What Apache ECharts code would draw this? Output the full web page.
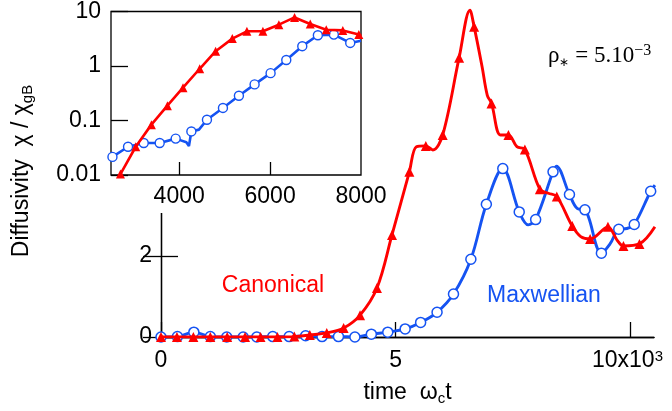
<!DOCTYPE html>
<html>
<head>
<meta charset="utf-8">
<script src="https://cdn.jsdelivr.net/npm/echarts@6/dist/echarts.min.js"></script>
<style>html,body{margin:0;padding:0;background:#fff}#c{width:672px;height:411px}</style>
</head>
<body>
<div id="c"></div>
<script>
// ---- Main chart data (time in units of 10^3 / omega_c) ----
const canonMarkT = [0,0.34,0.69,1.05,1.41,1.79,2.12,2.48,2.84,3.17,3.53,3.89,4.24,4.6,4.92,5.29,5.64,6.0,6.35,6.67,7.04,7.4,7.75,8.07,8.43,8.76,9.14,9.52,9.85,10.19];
const canonMarkV = [0,0,0,0,0,0,0,0,0.01,0.05,0.1,0.22,0.54,1.21,2.52,4.08,4.72,4.99,6.9,7.66,5.77,4.99,4.63,3.65,3.47,2.74,2.42,2.72,2.25,2.3];
const canonCurveT = [5.44,5.79,6.58,6.84,6.95,7.23,7.58,8.25,8.94,9.71,10.52];
const canonCurveV = [4.7,4.62,8.07,6.67,5.97,4.99,4.7,3.55,2.48,2.4,2.72];

const maxwMarkT = [0,0.35,0.7,1.05,1.4,1.75,2.04,2.38,2.73,3.08,3.43,3.78,4.13,4.48,4.83,5.2,5.53,5.88,6.23,6.6,6.93,7.28,7.63,7.98,8.35,8.7,9.03,9.38,9.75,10.08,10.43];
const maxwMarkV = [0,0.01,0.12,0.01,0,0,0,0.01,0.01,0.03,0.01,0.01,0,0.07,0.12,0.2,0.36,0.61,1.06,1.92,3.28,4.16,3.09,2.9,4.08,3.52,3.14,2.07,2.66,2.78,3.6];
const maxwCurveT = [7.82,8.42,8.87,9.57,9.92,10.52];
const maxwCurveV = [2.77,4.22,3.17,2.31,2.68,3.75];

// ---- Inset data (log scale, time in omega_c t) ----
const insetCanonMarkT = [2708,3044,3389,3741,4084,4451,4802,5169,5490,5842,6193,6538,6883,7235,7600,7952];
const insetCanonMarkV = [0.0104,0.033,0.084,0.187,0.40,0.89,1.87,3.18,4.33,4.33,5.73,7.78,5.88,4.64,4.5,3.77];
const insetCanonCurveT = [2620,8000];
const insetCanonCurveV = [0.0075,3.6];

const insetMaxwMarkT = [2532,2875,3220,3571,3923,4268,4611,4963,5314,5659,6011,6356,6708,7051,7403,7763];
const insetMaxwMarkV = [0.0215,0.033,0.0387,0.0387,0.0465,0.063,0.103,0.17,0.285,0.46,0.74,1.29,2.31,3.66,3.77,2.65];
const insetMaxwCurveT = [4158,4215,4435,8000];
const insetMaxwCurveV = [0.04,0.034,0.068,2.9];

// ---- Tick labels ----
const mainXTicks = {0:'0', 5:'5', 10:'{a|10x10}{sup|3}'};
const mainYTicks = {0:'0', 2:'2'};
const insetXTicks = [4000, 6000, 8000];
const insetXTickMarks = [4000, 6000];
const insetYLabels = ['0.01','0.1','1','10'];

const RED = '#ff0000';
const BLUE = '#1553f2';
const SANS = 'Liberation Sans, Helvetica, Arial, sans-serif';
const SERIF = 'Liberation Serif, Times New Roman, serif';
const FS = 23;

function merge(mT, mV, cT, cV) {
  const pts = [];
  mT.forEach((t, i) => pts.push({value: [t, mV[i]]}));
  cT.forEach((t, i) => pts.push({value: [t, cV[i]], symbol: 'none'}));
  pts.sort((a, b) => a.value[0] - b.value[0]);
  return pts;
}

const axisLineStyle = {color: '#000', width: 1.3};
const labelBase = {color: '#000', fontSize: FS, fontFamily: SANS};

const chart = echarts.init(document.getElementById('c'), null, {renderer: 'canvas'});
chart.setOption({
  animation: false,
  backgroundColor: '#fff',
  grid: [
    {left: 161, top: 5, width: 500, height: 332, z: 0},
    {left: 111, top: 10, width: 250, height: 165, show: true, backgroundColor: '#fff', borderColor: '#000', borderWidth: 1.3, z: 4}
  ],
  xAxis: [
    {gridIndex: 0, type: 'value', min: 0, max: 10.5, interval: 5, position: 'bottom', z: 0,
     axisLine: {lineStyle: axisLineStyle},
     axisTick: {inside: true, length: 15, lineStyle: axisLineStyle},
     splitLine: {show: false},
     axisLabel: Object.assign({}, labelBase, {margin: 12, showMaxLabel: false,
        formatter: v => mainXTicks[v] !== undefined ? mainXTicks[v] : '',
        rich: {a: {fontSize: FS, fontFamily: SANS, color: '#000'},
               sup: {fontSize: 15, fontFamily: SANS, color: '#000', verticalAlign: 'top', lineHeight: 15, padding: [0, 6, 0, 0]}}}),
     name: '{a|time  ω}{s|c}{a|t}', nameLocation: 'middle', nameGap: 43,
     nameTextStyle: {color: '#000', fontSize: FS, fontFamily: SANS,
        rich: {a: {fontSize: FS, fontFamily: SANS, color: '#000', lineHeight: 26},
               s: {fontSize: 15, fontFamily: SANS, color: '#000', verticalAlign: 'bottom', lineHeight: 15}}}},
    {gridIndex: 0, type: 'value', min: 0, max: 10.5, position: 'top', z: 0,
     axisLine: {lineStyle: axisLineStyle}, axisTick: {show: false}, axisLabel: {show: false}, splitLine: {show: false}},
    {gridIndex: 1, type: 'value', min: 2500, max: 8000, position: 'bottom', z: 5,
     axisLine: {show: false},
     axisTick: {inside: true, length: 13, customValues: insetXTickMarks, lineStyle: axisLineStyle},
     splitLine: {show: false},
     axisLabel: Object.assign({}, labelBase, {margin: 10, customValues: insetXTicks, formatter: v => String(v)})}
  ],
  yAxis: [
    {gridIndex: 0, type: 'value', min: 0, max: 8.2, interval: 2, position: 'left', z: 0,
     axisLine: {lineStyle: axisLineStyle},
     axisTick: {inside: true, length: 17, lineStyle: axisLineStyle},
     splitLine: {show: false},
     axisLabel: Object.assign({}, labelBase, {margin: 9, showMaxLabel: false,
        formatter: v => mainYTicks[v] !== undefined ? mainYTicks[v] : ''}),
     name: '{a|Diffusivity  χ / χ}{s|gB}', nameLocation: 'middle', nameGap: 126, nameRotate: 90,
     nameTextStyle: {color: '#000', fontSize: FS, fontFamily: SANS,
        rich: {a: {fontSize: FS, fontFamily: SANS, color: '#000', lineHeight: 26},
               s: {fontSize: 15, fontFamily: SANS, color: '#000', verticalAlign: 'bottom', lineHeight: 15}}}},
    {gridIndex: 0, type: 'value', min: 0, max: 8.2, interval: 2, position: 'right', z: 0,
     axisLine: {lineStyle: axisLineStyle},
     axisTick: {inside: true, length: 18, lineStyle: axisLineStyle},
     axisLabel: {show: false}, splitLine: {show: false}},
    {gridIndex: 1, type: 'log', logBase: 10, min: 0.01, max: 10, position: 'left', z: 5,
     axisLine: {show: false},
     axisTick: {inside: true, length: 17, lineStyle: axisLineStyle},
     splitLine: {show: false}, minorTick: {show: false},
     axisLabel: Object.assign({}, labelBase, {margin: 10,
        formatter: v => insetYLabels[Math.round(Math.log10(v)) + 2] || ''})}
  ],
  graphic: [
    {type: 'rect', z: 1, shape: {x: 45, y: 0, width: 344, height: 213}, style: {fill: '#fff'}},
    {type: 'text', z: 10, x: 273, y: 286, style: {text: 'Canonical', fill: RED, font: '23px ' + SANS, align: 'center', verticalAlign: 'middle'}},
    {type: 'text', z: 10, x: 544, y: 296, style: {text: 'Maxwellian', fill: BLUE, font: '23px ' + SANS, align: 'center', verticalAlign: 'middle'}},
    {type: 'text', z: 10, x: 548, y: 56, style: {
      text: '{a|ρ}{sub|∗}{a| = 5.10}{sup|−3}', align: 'left', verticalAlign: 'middle',
      rich: {a: {fontSize: 23, fontFamily: SERIF, fill: '#000', lineHeight: 26},
             sub: {fontSize: 12, fontFamily: SERIF, fill: '#000', verticalAlign: 'bottom', lineHeight: 10},
             sup: {fontSize: 16, fontFamily: SERIF, fill: '#000', verticalAlign: 'top', lineHeight: 14}}}}
  ],
  series: [
    {type: 'line', name: 'Maxwellian', xAxisIndex: 0, yAxisIndex: 0, z: 2, smooth: 0.35,
     data: merge(maxwMarkT, maxwMarkV, maxwCurveT, maxwCurveV),
     symbol: 'circle', symbolSize: 10, showAllSymbol: true,
     lineStyle: {color: BLUE, width: 2.9},
     itemStyle: {color: '#fff', borderColor: BLUE, borderWidth: 1.5}},
    {type: 'line', name: 'Canonical', xAxisIndex: 0, yAxisIndex: 0, z: 3, smooth: 0.35,
     data: merge(canonMarkT, canonMarkV, canonCurveT, canonCurveV),
     symbol: 'triangle', symbolSize: 10, showAllSymbol: true,
     lineStyle: {color: RED, width: 2.9},
     itemStyle: {color: RED}},
    {type: 'line', name: 'MaxwellianInset', xAxisIndex: 2, yAxisIndex: 2, z: 6, smooth: false,
     data: merge(insetMaxwMarkT, insetMaxwMarkV, insetMaxwCurveT, insetMaxwCurveV),
     symbol: 'circle', symbolSize: 9, showAllSymbol: true, clip: true,
     lineStyle: {color: BLUE, width: 2.6},
     itemStyle: {color: '#fff', borderColor: BLUE, borderWidth: 1.4}},
    {type: 'line', name: 'CanonicalInset', xAxisIndex: 2, yAxisIndex: 2, z: 7, smooth: false,
     data: merge(insetCanonMarkT, insetCanonMarkV, insetCanonCurveT, insetCanonCurveV),
     symbol: 'triangle', symbolSize: 9, showAllSymbol: true, clip: true,
     lineStyle: {color: RED, width: 2.6},
     itemStyle: {color: RED}}
  ]
});
</script>
</body>
</html>
